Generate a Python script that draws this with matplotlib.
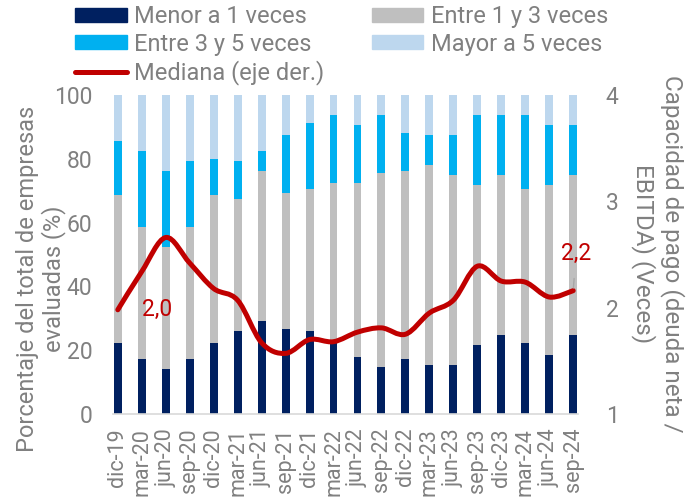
import numpy as np
import matplotlib
matplotlib.use('Agg')
import matplotlib.pyplot as plt
from matplotlib.path import Path
from matplotlib.patches import PathPatch, Patch
from matplotlib.lines import Line2D

plt.rcParams['font.family'] = ['Roboto', 'DejaVu Sans']

periodos = ['dic-19', 'mar-20', 'jun-20', 'sep-20', 'dic-20', 'mar-21', 'jun-21',
            'sep-21', 'dic-21', 'mar-22', 'jun-22', 'sep-22', 'dic-22', 'mar-23',
            'jun-23', 'sep-23', 'dic-23', 'mar-24', 'jun-24', 'sep-24']
menor_1 = [22.3, 17.3, 14.2, 17.3, 22.3, 26.1, 29.2, 26.7, 26.1, 23.0,
           18.0, 14.8, 17.3, 15.4, 15.4, 21.7, 24.8, 22.3, 18.6, 24.8]
entre_1_3 = [46.3, 41.3, 38.2, 41.3, 46.3, 41.3, 47.0, 42.5, 44.4, 49.4,
             54.4, 60.8, 58.9, 62.7, 59.6, 50.1, 50.2, 48.2, 53.2, 50.2]
entre_3_5 = [17.0, 23.9, 23.8, 20.7, 11.3, 11.9, 6.3, 18.3, 20.7, 21.3,
             18.2, 18.1, 11.9, 9.4, 12.5, 21.9, 18.7, 23.2, 18.8, 15.6]
mayor_5 = [14.4, 17.5, 23.8, 20.7, 20.1, 20.7, 17.5, 12.5, 8.8, 6.3,
           9.4, 6.3, 11.9, 12.5, 12.5, 6.3, 6.3, 6.3, 9.4, 9.4]
mediana = [1.98, 2.34, 2.66, 2.42, 2.18, 2.07, 1.67, 1.57, 1.70, 1.68,
           1.77, 1.81, 1.75, 1.95, 2.07, 2.39, 2.25, 2.24, 2.10, 2.16]

c_navy = '#002060'
c_gris = '#BFBFBF'
c_cian = '#00B0F0'
c_claro = '#BDD7EE'
c_rojo = '#C00000'
c_texto = '#808080'
fs = 16.5


def curva_suave(xs, ys):
    # bezier tipo excel entre puntos consecutivos
    pts = np.column_stack([xs, ys])
    n = len(pts)
    verts = [pts[0]]
    codes = [Path.MOVETO]
    for i in range(n - 1):
        p0 = pts[max(i - 1, 0)]
        p1 = pts[i]
        p2 = pts[i + 1]
        p3 = pts[min(i + 2, n - 1)]
        verts += [p1 + (p2 - p0) / 6, p2 - (p3 - p1) / 6, p2]
        codes += [Path.CURVE4] * 3
    return Path(verts, codes)


fig = plt.figure(figsize=(6.96, 5.04), dpi=100)
ax = fig.add_axes([113 / 696, 1 - 414 / 504, 465 / 696, 319 / 504])
x = np.arange(len(periodos))
w = 0.33

ax.bar(x, menor_1, w, color=c_navy)
ax.bar(x, entre_1_3, w, bottom=menor_1, color=c_gris)
base3 = np.array(menor_1) + np.array(entre_1_3)
ax.bar(x, entre_3_5, w, bottom=base3, color=c_cian)
base4 = base3 + np.array(entre_3_5)
ax.bar(x, mayor_5, w, bottom=base4, color=c_claro)

ax.set_xlim(-0.2, len(periodos) - 0.8)
ax.set_ylim(0, 100)
ax.set_yticks([0, 20, 40, 60, 80, 100])
ax.set_xticks(x)
ax.set_xticklabels(periodos, rotation=90)
ax.tick_params(axis='y', length=0, pad=15, labelsize=fs, labelcolor=c_texto)
ax.tick_params(axis='x', length=0, pad=10, labelsize=15.5, labelcolor=c_texto)
for s in ['top', 'left', 'right']:
    ax.spines[s].set_visible(False)
ax.spines['bottom'].set_color('#D9D9D9')
ax.spines['bottom'].set_linewidth(1.2)

ax2 = ax.twinx()
ax2.set_ylim(1, 4)
ax2.set_yticks([1, 2, 3, 4])
ax2.tick_params(axis='y', length=0, pad=20, labelsize=fs, labelcolor=c_texto)
for s in ax2.spines.values():
    s.set_visible(False)
ax2.add_patch(PathPatch(curva_suave(x, mediana), fill=False, edgecolor=c_rojo,
                        linewidth=3.6, capstyle='round', joinstyle='round'))

ax2.annotate(f'{mediana[0]:.1f}'.replace('.', ','), (x[0], mediana[0]),
             xytext=(28, 0), textcoords='offset points', ha='center', va='center',
             fontsize=fs, color=c_rojo)
ax2.annotate(f'{mediana[-1]:.1f}'.replace('.', ','), (x[-1], mediana[-1]),
             xytext=(2, 27), textcoords='offset points', ha='center', va='center',
             fontsize=fs, color=c_rojo,
             arrowprops=dict(arrowstyle='-', color='#A6A6A6', lw=1, shrinkA=8, shrinkB=2))

fig.text(41 / 696, 1 - 279 / 504, 'Porcentaje del total de empresas\nevaluadas (%)',
         rotation=90, ha='center', va='center', fontsize=17, color=c_texto,
         linespacing=1.15)
fig.text(658 / 696, 1 - 254 / 504, 'Capacidad de pago (deuda neta /\nEBITDA) (Veces)',
         rotation=270, ha='center', va='center', fontsize=17.5, color=c_texto,
         linespacing=1.2)

h_menor = Patch(color=c_navy)
h_13 = Patch(color=c_gris)
h_35 = Patch(color=c_cian)
h_may = Patch(color=c_claro)
h_med = Line2D([], [], color=c_rojo, linewidth=3.6, solid_capstyle='round')
fig.legend([h_menor, h_35, h_med, h_13, h_may],
           ['Menor a 1 veces', 'Entre 3 y 5 veces', 'Mediana (eje der.)',
            'Entre 1 y 3 veces', 'Mayor a 5 veces'],
           ncol=2, loc='upper left', bbox_to_anchor=(75 / 696, 1 - 5 / 504),
           frameon=False, fontsize=17, labelcolor=c_texto,
           handlelength=2.2, handleheight=0.55, handletextpad=0.3,
           columnspacing=2.0, labelspacing=0.2, borderpad=0, borderaxespad=0)

fig.savefig('out.png', dpi=100)
